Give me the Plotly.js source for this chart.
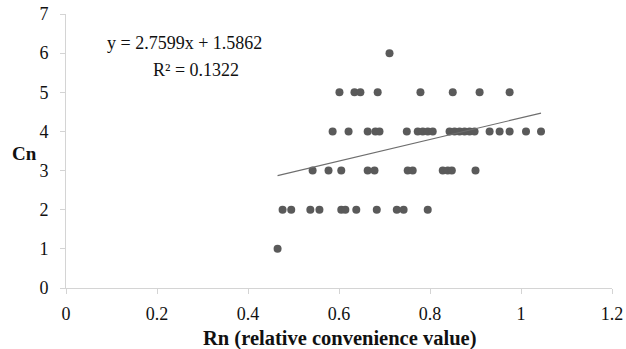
<!DOCTYPE html>
<html>
<head>
<meta charset="utf-8">
<script src="https://cdn.plot.ly/plotly-3.0.1.min.js"></script>
<style>html,body{margin:0;padding:0;background:#fff;}#chart{width:626px;height:349px;}</style>
</head>
<body>
<div id="chart"></div>
<script>
// Rn values (x) and Cn values (y)
const rnY1 = [0.465];
const rnY2 = [0.476, 0.495, 0.537, 0.557, 0.605, 0.614, 0.638, 0.683, 0.727, 0.742, 0.795];
const rnY3 = [0.542, 0.577, 0.605, 0.663, 0.678, 0.751, 0.762, 0.828, 0.839, 0.848, 0.900];
const rnY4 = [0.586, 0.621, 0.663, 0.680, 0.689, 0.749, 0.773, 0.784, 0.795, 0.806, 0.843, 0.854, 0.865, 0.876, 0.887, 0.898, 0.931, 0.953, 0.975, 1.011, 1.044];
const rnY5 = [0.601, 0.634, 0.647, 0.685, 0.779, 0.850, 0.909, 0.975];
const rnY6 = [0.711];
const cnLevels = [1, 2, 3, 4, 5, 6];
const slope = 2.7599;
const intercept = 1.5862;
const rSquared = 0.1322;
const xTickVals = [0, 0.2, 0.4, 0.6, 0.8, 1, 1.2];
const xTickText = ["0", "0.2", "0.4", "0.6", "0.8", "1", "1.2"];
const yTickVals = [0, 1, 2, 3, 4, 5, 6, 7];

const groups = [rnY1, rnY2, rnY3, rnY4, rnY5, rnY6];
const xs = [], ys = [];
groups.forEach((g, i) => g.forEach(v => { xs.push(v); ys.push(cnLevels[i]); }));
const xMin = Math.min(...xs), xMax = Math.max(...xs);

const FONT = "Liberation Serif, Times New Roman, serif";
const PL = 66, PR = 612, PT = 14, PB = 288;
const px = v => (v - PL) / (PR - PL);
const py = v => (PB - v) / (PB - PT);
const data = [
  {x: xs, y: ys, type: "scatter", mode: "markers",
   marker: {color: "#5a5a5a", size: 8}, hoverinfo: "skip"},
  {x: [xMin, xMax], y: [slope * xMin + intercept, slope * xMax + intercept],
   type: "scatter", mode: "lines", line: {color: "#6e6e6e", width: 1.2}, hoverinfo: "skip"}
];
const layout = {
  width: 626, height: 349,
  margin: {l: PL, r: 626 - PR, t: PT, b: 349 - PB},
  showlegend: false,
  paper_bgcolor: "#fff", plot_bgcolor: "#fff",
  font: {family: FONT, size: 18, color: "#111"},
  xaxis: {range: [0, 1.2], tickvals: xTickVals, ticktext: xTickText,
    showgrid: false, zeroline: false, showline: true, linecolor: "#d4d4d4", linewidth: 1,
    ticks: "outside", ticklen: 5, tickcolor: "#d4d4d4", ticklabelstandoff: 4,
    tickfont: {family: FONT, size: 18}},
  yaxis: {range: [0, 7], tickvals: yTickVals,
    showgrid: false, zeroline: false, showline: true, linecolor: "#d4d4d4", linewidth: 1,
    ticks: "outside", ticklen: 5, tickcolor: "#d4d4d4", ticklabelstandoff: 8,
    tickfont: {family: FONT, size: 18}},
  annotations: [
    {text: "<b>Cn</b>", xref: "paper", yref: "paper", x: px(39), y: py(153), xanchor: "right", yanchor: "middle",
     showarrow: false, font: {family: FONT, size: 19}},
    {text: "<b>Rn (relative convenience value)</b>", xref: "paper", yref: "paper", x: px(339), y: py(338),
     xanchor: "center", yanchor: "middle", showarrow: false, font: {family: FONT, size: 20.5}},
    {text: "y = " + slope + "x + " + intercept, xref: "paper", yref: "paper",
     x: px(184), y: py(43), xanchor: "center", yanchor: "middle",
     showarrow: false, font: {family: FONT, size: 18}},
    {text: "R² = " + rSquared, xref: "paper", yref: "paper",
     x: px(196), y: py(70), xanchor: "center", yanchor: "middle",
     showarrow: false, font: {family: FONT, size: 18}}
  ]
};
Plotly.newPlot("chart", data, layout, {staticPlot: true, displayModeBar: false});
</script>
</body>
</html>
